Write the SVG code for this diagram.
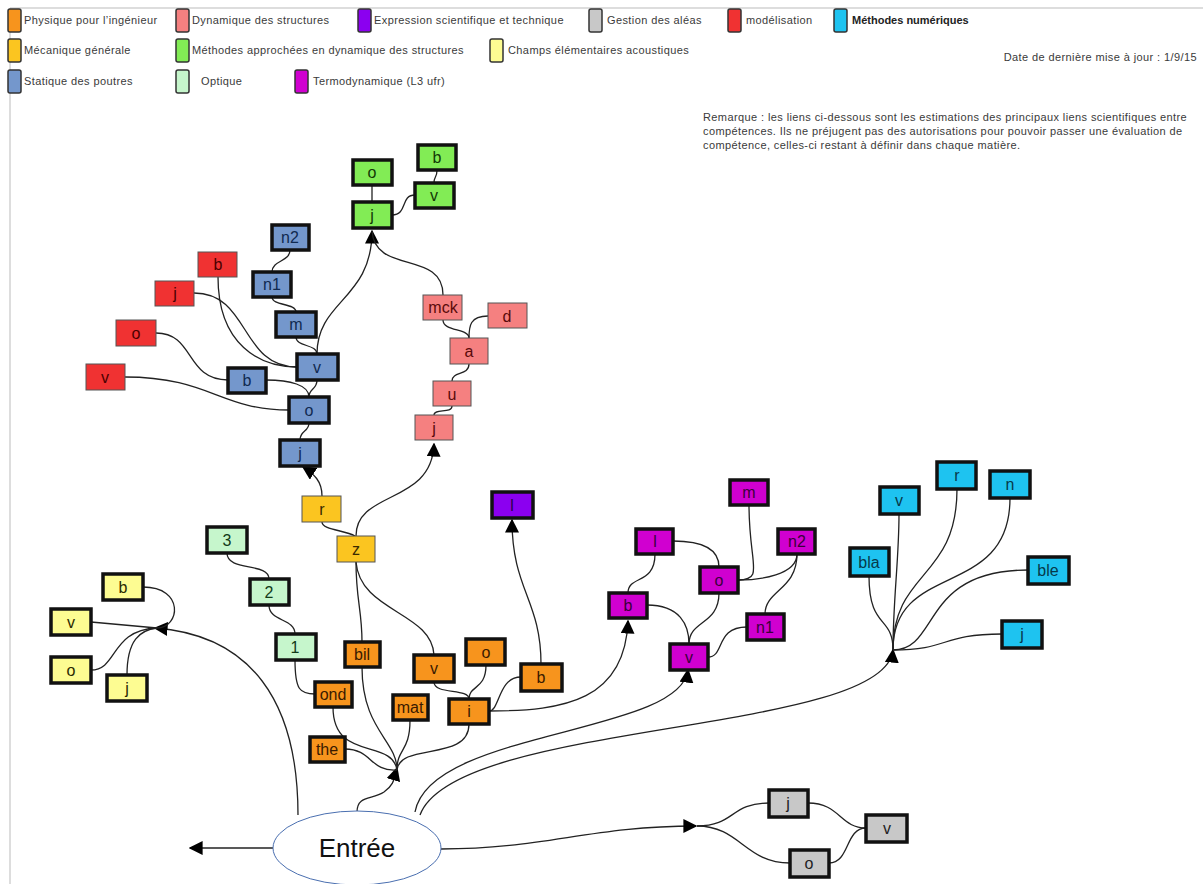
<svg xmlns="http://www.w3.org/2000/svg" width="1203" height="884" viewBox="0 0 1203 884">
<defs>
<marker id="ahB" viewBox="0 0 10 10" refX="9" refY="5" markerWidth="14" markerHeight="14" markerUnits="userSpaceOnUse" orient="auto"><path d="M0,0 L10,5 L0,10 z" fill="#000"/></marker>
</defs>
<style>
text{font-family:"Liberation Sans",Arial,sans-serif}
.lg{font-size:11px;fill:#3a3a3a;letter-spacing:0.4px}
.sw{stroke:#333;stroke-width:1.5}
.n rect{stroke:#111;stroke-width:3.5}
.t rect{stroke:#555;stroke-width:1}
.n text,.t text{font-size:16px;text-anchor:middle;dominant-baseline:central}
.e path{fill:none;stroke:#222;stroke-width:1.3}
.a{marker-end:url(#ahB)}
.or rect{fill:#f7941d}.or text{fill:#3a1a00}
.sa rect{fill:#f58080}.sa text{fill:#5a0a0a}
.pu rect{fill:#8b00f0}.pu text{fill:#2a004a}
.gr rect{fill:#c8c8c8}.gr text{fill:#222}
.rd rect{fill:#f03232}.rd text{fill:#4a0000}
.cy rect{fill:#1ec3f0}.cy text{fill:#063a4a}
.go rect{fill:#fbc520}.go text{fill:#3a2a00}
.gn rect{fill:#82ec55}.gn text{fill:#123a05}
.bl rect{fill:#7497cc}.bl text{fill:#102a50}
.lgn rect{fill:#c6f6cc}.lgn text{fill:#123a18}
.mg rect{fill:#d000d0}.mg text{fill:#3a003a}
.ye rect{fill:#fdfc92}.ye text{fill:#2a2a00}
</style>
<rect width="1203" height="884" fill="#fff"/>
<path d="M10,8 H1203 M10,8 V884" stroke="#ddd" stroke-width="2" fill="none"/>

<g id="legend">
<rect class="sw" x="8" y="9" width="13" height="23" rx="2" fill="#f7941d"/><text class="lg" x="24" y="24">Physique pour l’ingénieur</text>
<rect class="sw" x="176" y="9" width="13" height="23" rx="2" fill="#f58080"/><text class="lg" x="192" y="24">Dynamique des structures</text>
<rect class="sw" x="358" y="9" width="13" height="23" rx="2" fill="#8b00f0"/><text class="lg" x="374" y="24">Expression scientifique et technique</text>
<rect class="sw" x="589" y="9" width="13" height="23" rx="2" fill="#c8c8c8"/><text class="lg" x="607" y="24">Gestion des aléas</text>
<rect class="sw" x="728" y="9" width="13" height="23" rx="2" fill="#f03232"/><text class="lg" x="746" y="24">modélisation</text>
<rect class="sw" x="834" y="9" width="13" height="23" rx="2" fill="#1ec3f0"/><text class="lg" x="852" y="24" font-weight="bold" style="fill:#222;letter-spacing:0">Méthodes numériques</text>
<rect class="sw" x="8" y="39" width="13" height="23" rx="2" fill="#fbc520"/><text class="lg" x="24" y="54">Mécanique générale</text>
<rect class="sw" x="176" y="39" width="13" height="23" rx="2" fill="#82ec55"/><text class="lg" x="192" y="54">Méthodes approchées en dynamique des structures</text>
<rect class="sw" x="490" y="39" width="13" height="23" rx="2" fill="#fdfc92"/><text class="lg" x="508" y="54">Champs élémentaires acoustiques</text>
<rect class="sw" x="8" y="70" width="13" height="23" rx="2" fill="#7497cc"/><text class="lg" x="24" y="85">Statique des poutres</text>
<rect class="sw" x="176" y="70" width="13" height="23" rx="2" fill="#c6f6cc"/><text class="lg" x="201" y="85">Optique</text>
<rect class="sw" x="295" y="70" width="13" height="23" rx="2" fill="#d000d0"/><text class="lg" x="313" y="85">Termodynamique (L3 ufr)</text>
<text class="lg" x="1197" y="61" text-anchor="end">Date de dernière mise à jour : 1/9/15</text>
<text class="lg" x="703" y="121">Remarque : les liens ci-dessous sont les estimations des principaux liens scientifiques entre</text>
<text class="lg" x="703" y="135">compétences. Ils ne préjugent pas des autorisations pour pouvoir passer une évaluation de</text>
<text class="lg" x="703" y="149">compétence, celles-ci restant à définir dans chaque matière.</text>
</g>

<g id="connectors" class="e">
<path class="a" d="M273,848 L190,848"/>
<path class="a" d="M298,815 C298,700 250,635 155,628"/>
<path class="a" d="M357,812 C357,795 372,800 384,792 C395,784 394,778 397,768"/>
<path class="a" d="M415,812 C430,730 680,735 688,670"/>
<path class="a" d="M420,815 C455,720 885,735 893,650"/>
<path class="a" d="M441,849 C545,849 590,826 696,826"/>
<path d="M697,826 C735,826 730,803 769,803"/>
<path d="M697,826 C740,826 745,863 790,863"/>
<path d="M808,803 C840,803 840,828 866,828"/>
<path d="M829,863 C850,863 845,828 866,828"/>
<path d="M91,622 L157,628"/>
<path d="M91,670 C118,670 110,630 157,628"/>
<path d="M127,675 C127,640 140,630 157,628"/>
<path d="M143,587 C185,587 180,628 157,628"/>
<path d="M345,749 C372,749 370,772 397,770"/>
<path d="M333,707 C333,762 392,738 397,770"/>
<path d="M362,667 C362,730 397,740 397,770"/>
<path d="M410,720 C410,752 397,748 397,770"/>
<path d="M469,724 C469,762 400,742 397,770"/>
<path d="M356,562 C356,600 362,610 362,642"/>
<path d="M356,562 C360,612 432,612 434,655"/>
<path class="a" d="M356,536 C356,490 432,505 434,444"/>
<path d="M322,522 C322,530 345,530 355,536"/>
<path class="a" d="M322,496 C322,481 314,474 303,467"/>
<path d="M300,440 C300,430 309,432 309,423"/>
<path d="M309,397 C309,388 317,390 317,380"/>
<path d="M266,380 C290,380 309,385 309,397"/>
<path d="M125,377 C210,377 220,410 289,410"/>
<path d="M156,333 C195,333 185,380 228,380"/>
<path d="M194,293 C250,293 240,367 297,367"/>
<path d="M218,277 C218,345 260,367 297,367"/>
<path d="M296,337 C296,347 317,344 317,354"/>
<path d="M272,297 C272,306 296,303 296,312"/>
<path d="M290,250 C290,262 272,260 272,272"/>
<path class="a" d="M317,354 C317,300 372,300 372,231"/>
<path d="M443,295 C443,250 375,275 372,231"/>
<path d="M443,320 C443,332 469,328 469,338"/>
<path d="M488,316 C470,316 469,326 469,338"/>
<path d="M469,364 C469,376 452,371 452,381"/>
<path d="M452,406 C452,414 434,408 434,415"/>
<path d="M372,185 L372,202"/>
<path d="M392,215 C408,215 400,195 415,195"/>
<path d="M437,170 C437,178 434,176 434,183"/>
<path d="M227,553 C227,572 269,562 269,579"/>
<path d="M269,605 C269,622 295,618 295,634"/>
<path d="M295,660 C295,690 300,694 315,694"/>
<path d="M434,682 C434,695 469,688 469,699"/>
<path d="M486,665 C486,690 469,685 469,699"/>
<path d="M521,677 C498,677 500,711 489,711"/>
<path class="a" d="M489,711 C565,711 625,700 628,621"/>
<path class="a" d="M541,664 C541,600 512,590 512,520"/>
<path d="M655,554 C655,585 628,575 628,593"/>
<path d="M673,541 C705,541 719,550 719,567"/>
<path d="M749,505 C749,565 765,580 738,580"/>
<path d="M797,554 C797,575 760,580 738,580"/>
<path d="M797,554 C797,590 765,590 765,614"/>
<path d="M647,605 C680,605 689,625 689,644"/>
<path d="M719,593 C719,625 689,620 689,644"/>
<path d="M747,627 C715,627 725,657 708,657"/>
<path d="M869,576 C869,630 893,615 893,650"/>
<path d="M899,514 C899,560 893,600 893,650"/>
<path d="M957,489 C957,580 893,570 893,650"/>
<path d="M1010,498 C1010,600 893,560 893,650"/>
<path d="M1028,570 C920,570 940,650 893,650"/>
<path d="M1002,634 C940,634 950,650 893,650"/>
</g>

<g id="n-entree"><ellipse cx="357" cy="848" rx="84" ry="37" fill="#fff" stroke="#4a6fb0" stroke-width="1"/><text x="357" y="857" font-size="26" text-anchor="middle" fill="#111">Entrée</text></g>

<g id="n-gn-o" class="n gn"><rect x="353" y="160" width="39" height="25"/><text x="372" y="172">o</text></g>
<g id="n-gn-b" class="n gn"><rect x="418" y="145" width="38" height="25"/><text x="437" y="157">b</text></g>
<g id="n-gn-v" class="n gn"><rect x="415" y="183" width="39" height="25"/><text x="434" y="195">v</text></g>
<g id="n-gn-j" class="n gn"><rect x="353" y="202" width="39" height="26"/><text x="372" y="215">j</text></g>

<g id="n-bl-n2" class="n bl"><rect x="272" y="225" width="37" height="25"/><text x="290" y="237">n2</text></g>
<g id="n-bl-n1" class="n bl"><rect x="253" y="272" width="38" height="25"/><text x="272" y="284">n1</text></g>
<g id="n-bl-m" class="n bl"><rect x="276" y="312" width="40" height="25"/><text x="296" y="324">m</text></g>
<g id="n-bl-v" class="n bl"><rect x="297" y="354" width="41" height="26"/><text x="317" y="367">v</text></g>
<g id="n-bl-b" class="n bl"><rect x="228" y="368" width="38" height="25"/><text x="247" y="380">b</text></g>
<g id="n-bl-o" class="n bl"><rect x="289" y="397" width="40" height="26"/><text x="309" y="410">o</text></g>
<g id="n-bl-j" class="n bl"><rect x="280" y="440" width="40" height="26"/><text x="300" y="453">j</text></g>

<g id="n-rd-b" class="t rd"><rect x="198" y="252" width="39" height="25"/><text x="218" y="264">b</text></g>
<g id="n-rd-j" class="t rd"><rect x="155" y="281" width="39" height="25"/><text x="175" y="293">j</text></g>
<g id="n-rd-o" class="t rd"><rect x="116" y="320" width="40" height="26"/><text x="136" y="333">o</text></g>
<g id="n-rd-v" class="t rd"><rect x="86" y="364" width="39" height="26"/><text x="105" y="377">v</text></g>

<g id="n-sa-mck" class="t sa"><rect x="423" y="295" width="39" height="25"/><text x="443" y="307">mck</text></g>
<g id="n-sa-d" class="t sa"><rect x="488" y="303" width="39" height="25"/><text x="507" y="316">d</text></g>
<g id="n-sa-a" class="t sa"><rect x="450" y="338" width="38" height="26"/><text x="469" y="351">a</text></g>
<g id="n-sa-u" class="t sa"><rect x="433" y="381" width="38" height="25"/><text x="452" y="394">u</text></g>
<g id="n-sa-j" class="t sa"><rect x="415" y="415" width="38" height="25"/><text x="434" y="428">j</text></g>

<g id="n-go-r" class="t go"><rect x="302" y="496" width="39" height="26"/><text x="322" y="509">r</text></g>
<g id="n-go-z" class="t go"><rect x="337" y="536" width="38" height="26"/><text x="356" y="549">z</text></g>

<g id="n-pu-l" class="n pu"><rect x="492" y="492" width="41" height="26"/><text x="512" y="505">l</text></g>

<g id="n-lgn-3" class="n lgn"><rect x="207" y="527" width="40" height="26"/><text x="227" y="540">3</text></g>
<g id="n-lgn-2" class="n lgn"><rect x="250" y="579" width="39" height="26"/><text x="269" y="592">2</text></g>
<g id="n-lgn-1" class="n lgn"><rect x="276" y="634" width="40" height="26"/><text x="295" y="647">1</text></g>

<g id="n-ye-b" class="n ye"><rect x="103" y="574" width="40" height="26"/><text x="123" y="587">b</text></g>
<g id="n-ye-v" class="n ye"><rect x="51" y="609" width="40" height="26"/><text x="71" y="622">v</text></g>
<g id="n-ye-o" class="n ye"><rect x="51" y="657" width="40" height="26"/><text x="71" y="670">o</text></g>
<g id="n-ye-j" class="n ye"><rect x="107" y="675" width="40" height="26"/><text x="127" y="688">j</text></g>

<g id="n-or-bil" class="n or"><rect x="345" y="642" width="35" height="25"/><text x="362" y="654">bil</text></g>
<g id="n-or-ond" class="n or"><rect x="315" y="682" width="37" height="25"/><text x="333" y="694">ond</text></g>
<g id="n-or-mat" class="n or"><rect x="393" y="695" width="35" height="25"/><text x="410" y="707">mat</text></g>
<g id="n-or-the" class="n or"><rect x="310" y="737" width="35" height="25"/><text x="327" y="749">the</text></g>
<g id="n-or-v" class="n or"><rect x="414" y="655" width="40" height="27"/><text x="434" y="668">v</text></g>
<g id="n-or-o" class="n or"><rect x="466" y="639" width="39" height="26"/><text x="486" y="652">o</text></g>
<g id="n-or-b" class="n or"><rect x="521" y="664" width="41" height="27"/><text x="541" y="677">b</text></g>
<g id="n-or-i" class="n or"><rect x="449" y="699" width="40" height="25"/><text x="469" y="711">i</text></g>

<g id="n-mg-m" class="n mg"><rect x="730" y="480" width="38" height="25"/><text x="749" y="492">m</text></g>
<g id="n-mg-l" class="n mg"><rect x="636" y="529" width="37" height="25"/><text x="655" y="541">l</text></g>
<g id="n-mg-n2" class="n mg"><rect x="778" y="529" width="37" height="25"/><text x="797" y="541">n2</text></g>
<g id="n-mg-o" class="n mg"><rect x="700" y="567" width="38" height="26"/><text x="719" y="580">o</text></g>
<g id="n-mg-b" class="n mg"><rect x="609" y="593" width="38" height="25"/><text x="628" y="605">b</text></g>
<g id="n-mg-n1" class="n mg"><rect x="747" y="614" width="37" height="26"/><text x="765" y="627">n1</text></g>
<g id="n-mg-v" class="n mg"><rect x="670" y="644" width="38" height="26"/><text x="689" y="657">v</text></g>

<g id="n-cy-v" class="n cy"><rect x="880" y="487" width="39" height="27"/><text x="899" y="500">v</text></g>
<g id="n-cy-r" class="n cy"><rect x="937" y="462" width="39" height="27"/><text x="957" y="475">r</text></g>
<g id="n-cy-n" class="n cy"><rect x="990" y="471" width="40" height="27"/><text x="1010" y="484">n</text></g>
<g id="n-cy-bla" class="n cy"><rect x="850" y="548" width="39" height="28"/><text x="869" y="562">bla</text></g>
<g id="n-cy-ble" class="n cy"><rect x="1028" y="557" width="41" height="27"/><text x="1048" y="570">ble</text></g>
<g id="n-cy-j" class="n cy"><rect x="1002" y="621" width="40" height="27"/><text x="1022" y="634">j</text></g>

<g id="n-gr-j" class="n gr"><rect x="769" y="790" width="39" height="27"/><text x="788" y="803">j</text></g>
<g id="n-gr-v" class="n gr"><rect x="866" y="815" width="41" height="27"/><text x="887" y="828">v</text></g>
<g id="n-gr-o" class="n gr"><rect x="790" y="850" width="39" height="27"/><text x="809" y="863">o</text></g>
</svg>
